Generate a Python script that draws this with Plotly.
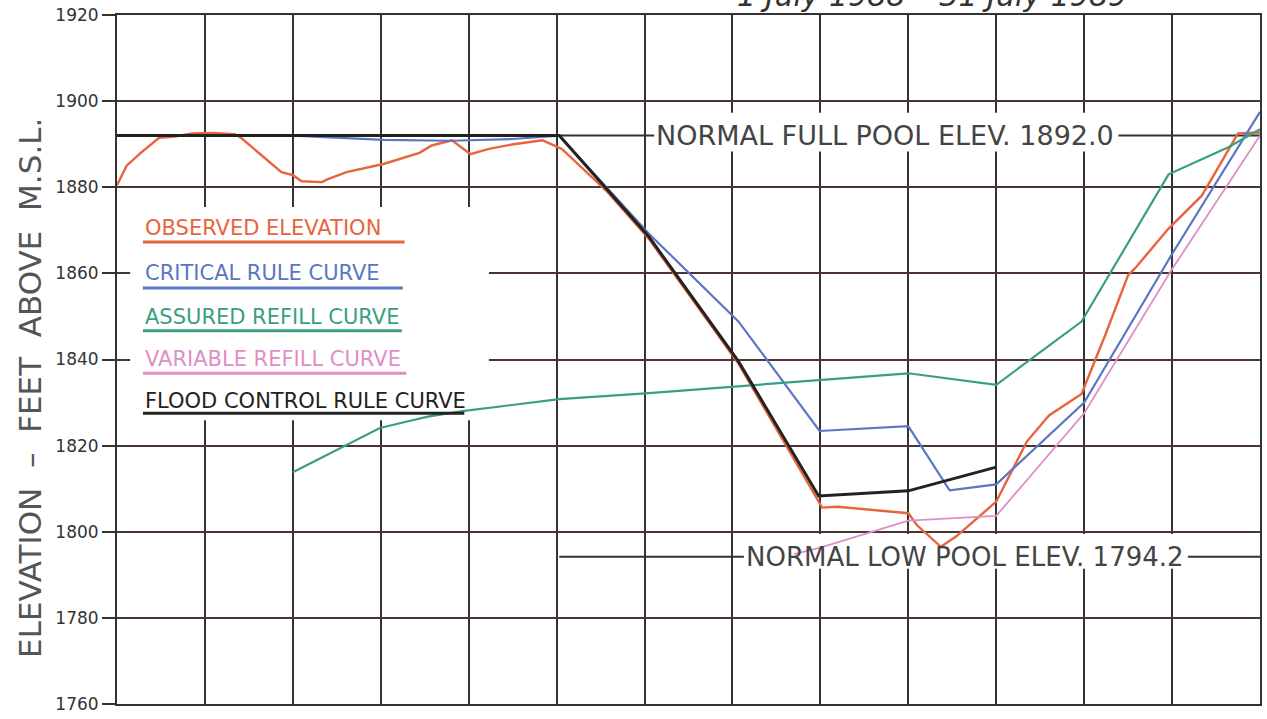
import plotly.graph_objects as go

# x = month index from 1 July 1988 (0) to 31 July 1989 (13)
obs_x = [0.0, 0.11, 0.27, 0.48, 0.66, 0.85, 1.08, 1.34, 1.41, 1.64, 1.87, 2.0, 2.1, 2.33, 2.4,
         2.61, 3.03, 3.44, 3.58, 3.81, 4.02, 4.23, 4.51, 4.84, 5.06, 5.56, 6.05, 7.07, 7.93,
         8.02, 8.2, 8.5, 9.0, 9.1, 9.37, 9.55, 10.0, 10.2, 10.35, 10.6, 10.97, 11.24, 11.5,
         11.58, 11.96, 12.34, 12.75, 13.0]
obs_y = [1880.5, 1885.0, 1888.0, 1891.5, 1891.8, 1892.5, 1892.6, 1892.3, 1891.5, 1887.4, 1883.5,
         1882.8, 1881.4, 1881.2, 1881.9, 1883.5, 1885.4, 1888.0, 1889.7, 1890.9, 1887.7, 1888.9,
         1890.0, 1890.9, 1888.9, 1879.3, 1868.0, 1839.0, 1808.5, 1805.6, 1805.8, 1805.2, 1804.3,
         1801.5, 1796.5, 1799.0, 1807.0, 1815.0, 1821.0, 1827.0, 1832.0, 1845.7, 1859.6, 1861.2,
         1870.4, 1878.1, 1892.5, 1892.7]

crit_x = [2.0, 2.5, 3.03, 3.8, 4.5, 5.03, 6.05, 7.07, 7.99, 9.0, 9.47, 10.0, 11.0, 12.0, 13.0]
crit_y = [1892.0, 1891.6, 1891.0, 1890.8, 1891.2, 1892.0, 1869.2, 1848.8, 1823.4, 1824.5,
          1809.6, 1811.0, 1830.0, 1864.5, 1897.5]

assured_x = [2.0, 2.99, 3.36, 3.55, 3.93, 4.58, 5.03, 6.05, 7.07, 8.0, 9.0, 10.0, 10.97,
             11.96, 12.64, 13.0]
assured_y = [1813.8, 1824.1, 1825.9, 1826.8, 1828.0, 1829.7, 1830.8, 1832.2, 1833.8, 1835.1,
             1836.8, 1834.1, 1848.8, 1883.0, 1889.3, 1893.5]

variable_x = [7.7, 8.0, 9.0, 10.0, 11.0, 12.0, 13.0]
variable_y = [1794.8, 1796.3, 1802.6, 1803.7, 1827.5, 1861.0, 1892.0]

flood_x = [0.0, 5.03, 6.05, 7.07, 7.98, 9.0, 10.0]
flood_y = [1892.0, 1892.0, 1868.5, 1839.5, 1808.3, 1809.5, 1815.0]

series_names = ["OBSERVED ELEVATION", "CRITICAL RULE CURVE", "ASSURED REFILL CURVE",
                "VARIABLE REFILL CURVE", "FLOOD CONTROL RULE CURVE"]
series_colors = ["#e8643c", "#5a76c4", "#3a9e80", "#e08ec6", "#222222"]
series_widths = [2.4, 2.2, 2.2, 1.8, 3.0]

y_ticks = [1760, 1780, 1800, 1820, 1840, 1860, 1880, 1900, 1920]
month_ticks = list(range(0, 14))
full_pool = 1892.0
low_pool = 1794.2
full_pool_label = "NORMAL FULL POOL ELEV. 1892.0"
low_pool_label = "NORMAL LOW POOL ELEV. 1794.2"
title_text = "1 July 1988 \u2013 31 July 1989"
y_title = "ELEVATION\u00a0 \u2013\u00a0 FEET\u00a0 ABOVE\u00a0 M.S.L."

fig = go.Figure()
xs = [obs_x, crit_x, assured_x, variable_x, flood_x]
ys = [obs_y, crit_y, assured_y, variable_y, flood_y]
for name, x, y, c, w in zip(series_names, xs, ys, series_colors, series_widths):
    fig.add_trace(go.Scatter(x=x, y=y, mode="lines", name=name,
                             line=dict(color=c, width=w), showlegend=False,
                             hoverinfo="skip"))

shapes = []
# reference lines
shapes.append(dict(type="line", xref="x", yref="y", x0=0, x1=13, y0=full_pool, y1=full_pool,
                   line=dict(color="#333333", width=2), layer="between"))
shapes.append(dict(type="line", xref="x", yref="y", x0=5.03, x1=13, y0=low_pool, y1=low_pool,
                   line=dict(color="#333333", width=2), layer="between"))
# white boxes behind labels and legend
for (x0, x1, y0, y1) in [(6.11, 11.39, 1888.3, 1897.3), (7.13, 12.18, 1791.4, 1799.5),
                         (0.15, 4.23, 1825.9, 1875.4)]:
    shapes.append(dict(type="rect", xref="x", yref="y", x0=x0, x1=x1, y0=y0, y1=y1,
                       fillcolor="white", line=dict(width=0), layer="between"))

annotations = []
leg_text_y = [1870.5, 1860.1, 1849.9, 1840.2, 1830.3]
leg_line_y = [1867.3, 1856.6, 1846.7, 1836.8, 1827.5]
leg_line_x1 = [3.27, 3.25, 3.24, 3.29, 3.95]
for name, c, ty, ly, lx1 in zip(series_names, series_colors, leg_text_y, leg_line_y, leg_line_x1):
    annotations.append(dict(x=0.295, y=ty, xref="x", yref="y", text=name, showarrow=False,
                            xanchor="left", yanchor="middle",
                            font=dict(family="DejaVu Sans", size=21, color=c)))
    shapes.append(dict(type="line", xref="x", yref="y", x0=0.295, x1=lx1, y0=ly, y1=ly,
                       line=dict(color=c, width=3), layer="above"))

annotations.append(dict(x=8.74, y=full_pool, xref="x", yref="y", text=full_pool_label,
                        showarrow=False, xanchor="center", yanchor="middle",
                        font=dict(family="DejaVu Sans", size=27, color="#444444")))
annotations.append(dict(x=9.64, y=low_pool, xref="x", yref="y", text=low_pool_label,
                        showarrow=False, xanchor="center", yanchor="middle",
                        font=dict(family="DejaVu Sans", size=26, color="#444444")))
annotations.append(dict(x=0.713, y=1.0, xref="paper", yref="paper", text=title_text,
                        showarrow=False, xanchor="center", yanchor="bottom", yshift=0,
                        font=dict(family="DejaVu Sans", size=30, color="#333333", style="italic")))
annotations.append(dict(x=-0.076, y=0.459, xref="paper", yref="paper", text=y_title,
                        showarrow=False, textangle=-90, xanchor="center", yanchor="middle",
                        font=dict(family="DejaVu Sans", size=31, color="#555555")))

fig.update_layout(
    width=1267, height=719,
    margin=dict(l=117, r=5, t=12, b=15),
    paper_bgcolor="white", plot_bgcolor="white",
    shapes=shapes, annotations=annotations,
    hovermode=False,
    xaxis=dict(range=[0, 13], tickvals=month_ticks, showticklabels=False, ticks="",
               showgrid=True, gridcolor="#333333", gridwidth=2, zeroline=False,
               showline=True, linecolor="#333333", linewidth=2, mirror=True),
    yaxis=dict(range=[1760, 1920], tickvals=y_ticks, ticks="outside", ticklen=13,
               tickwidth=2, tickcolor="#333333",
               tickfont=dict(family="DejaVu Sans", size=17, color="#333333"),
               showgrid=True, gridcolor="#4a3434", gridwidth=2, zeroline=False,
               showline=True, linecolor="#333333", linewidth=2, mirror=True),
)

fig.write_html("out.html", config={"displayModeBar": False},
               post_script="document.body.style.margin='0';")
